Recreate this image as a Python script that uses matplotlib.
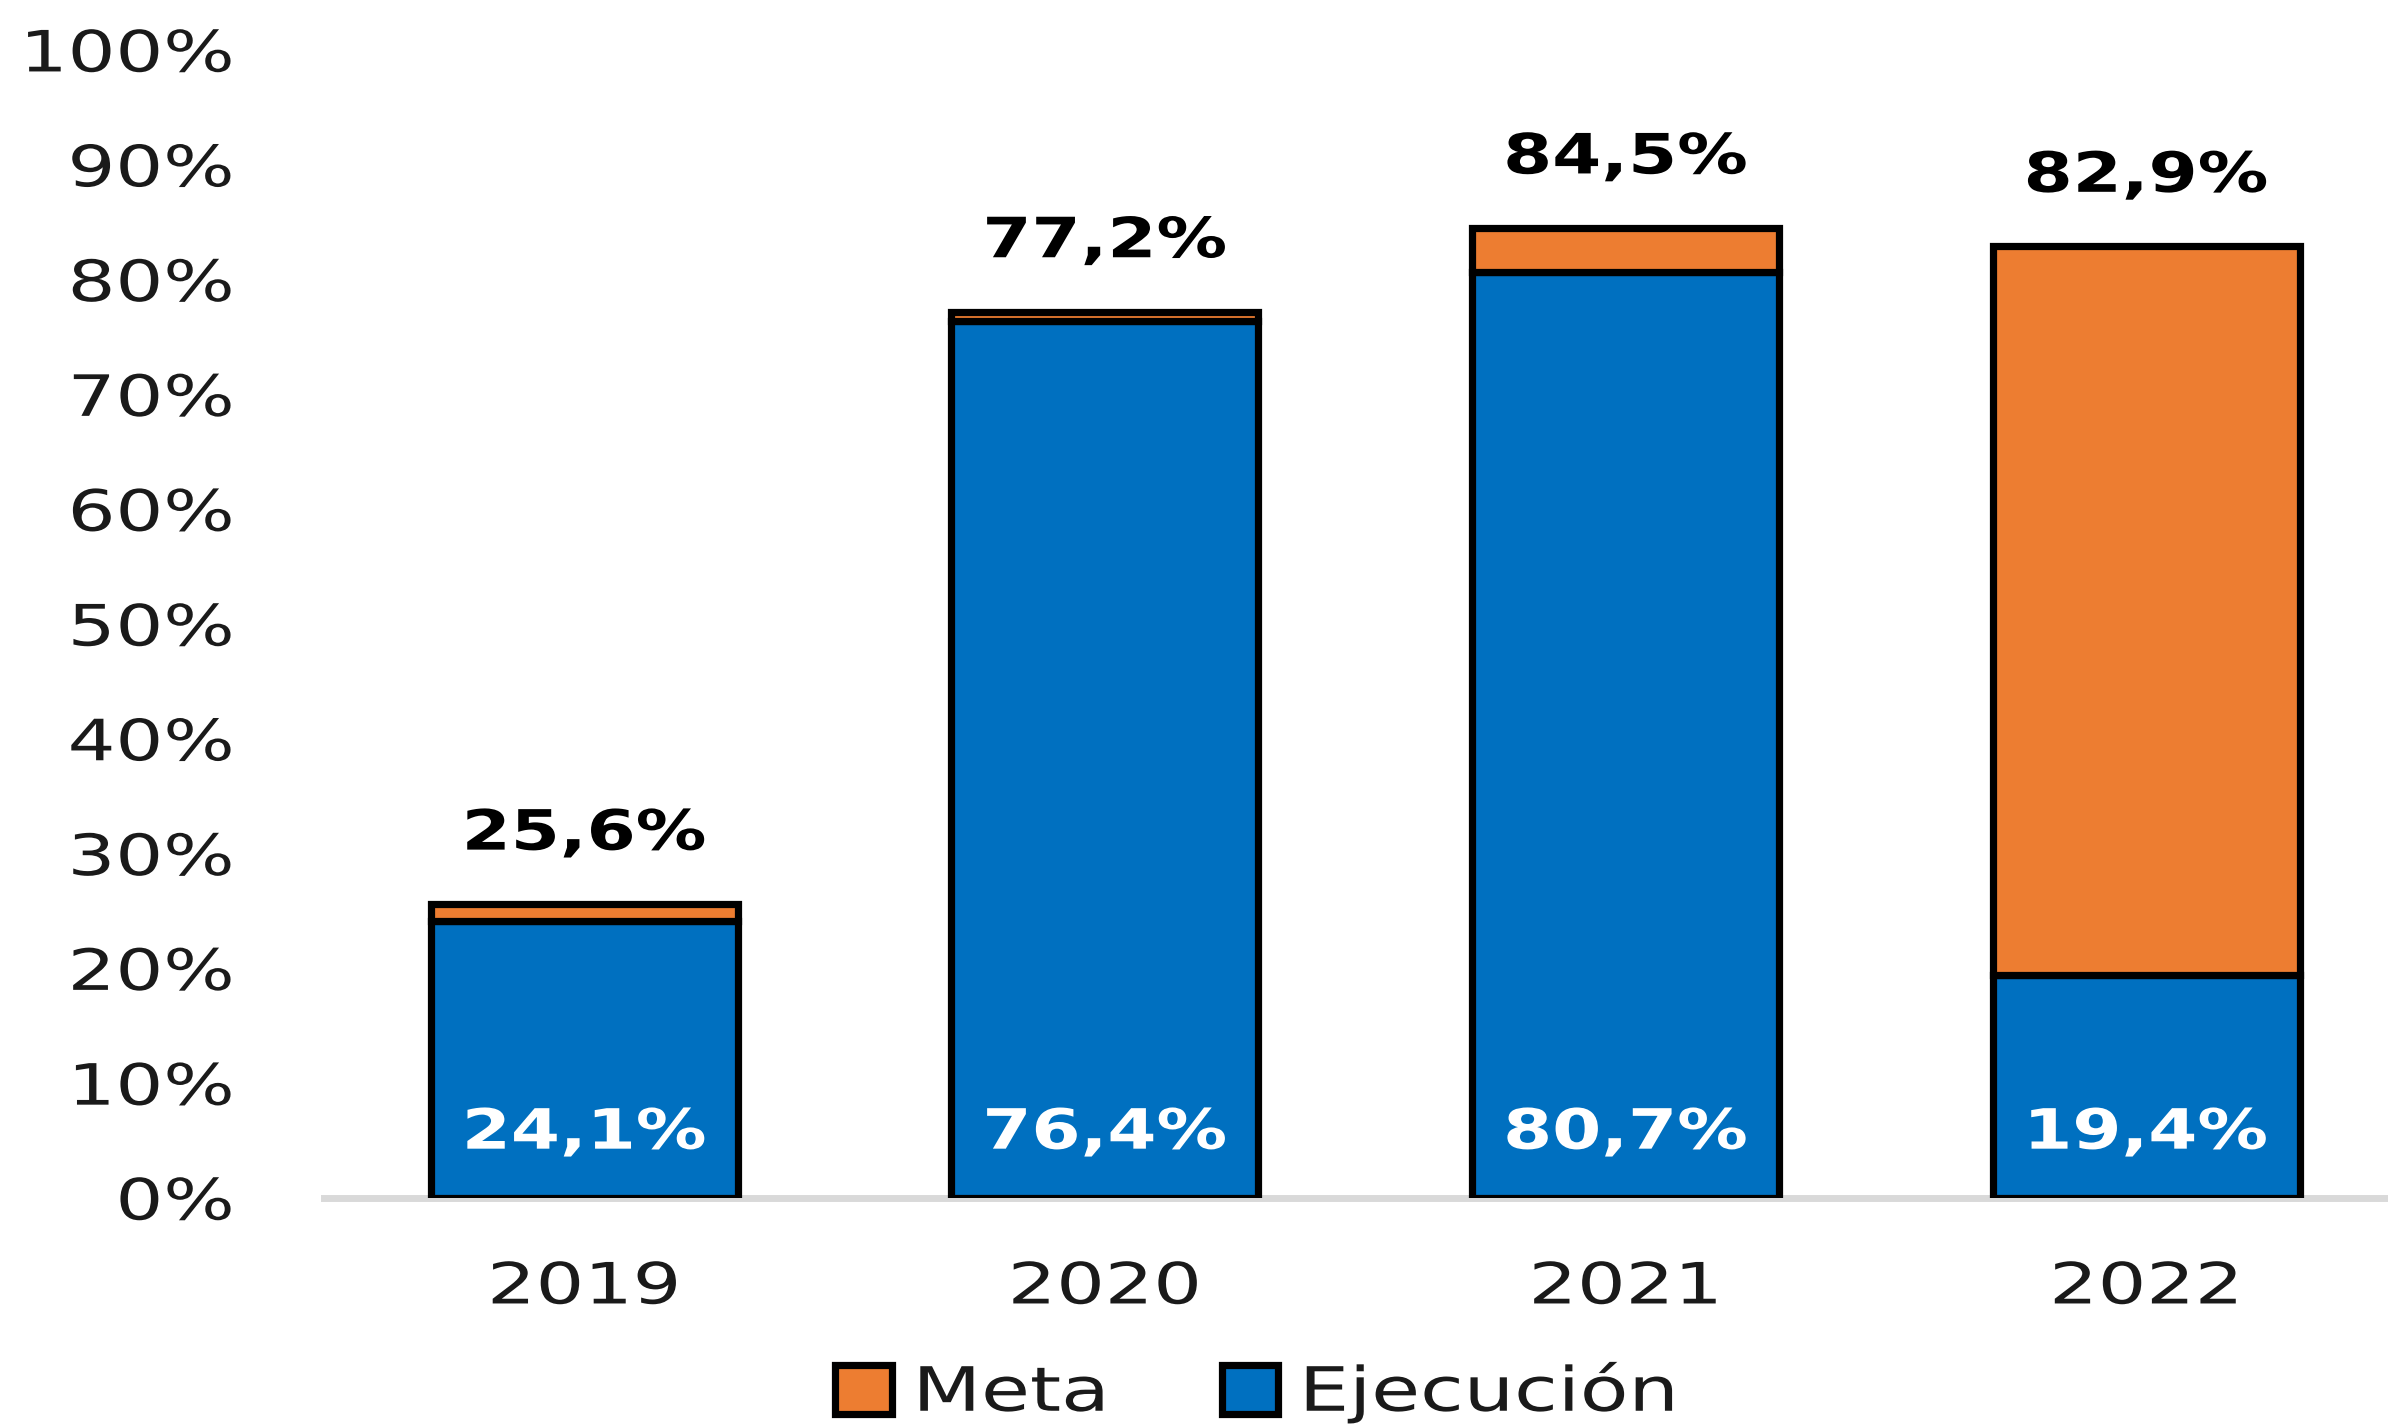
import matplotlib
matplotlib.use("Agg")
import matplotlib.pyplot as plt
import matplotlib.ticker as mticker
from matplotlib.patheffects import AbstractPathEffect
from matplotlib.transforms import Affine2D
import numpy as np

years = ["2019", "2020", "2021", "2022"]
ejecucion = [24.1, 76.4, 80.7, 19.4]
meta = [25.6, 77.2, 84.5, 82.9]

plt.rcParams['font.family'] = ['DejaVu Sans']


# the source picture is stretched sideways, so widen the glyphs a bit
class Stretch(AbstractPathEffect):
    def __init__(self, sx, anchor='center'):
        super().__init__()
        self.sx = sx
        self.anchor = anchor

    def draw_path(self, renderer, gc, tpath, affine, rgbFace=None):
        bb = tpath.get_extents(affine)
        if self.anchor == 'right':
            cx = bb.x1
        elif self.anchor == 'left':
            cx = bb.x0
        else:
            cx = (bb.x0 + bb.x1) / 2
        t = affine + Affine2D().translate(-cx, 0).scale(self.sx, 1).translate(cx, 0)
        renderer.draw_path(gc, tpath, t, rgbFace)


fig = plt.figure(figsize=(23.88, 14.27), dpi=100)
ax = fig.add_axes([0.1357, 0.1605, 0.872, 0.8045])

x = np.arange(len(years))
resto = [m - e for m, e in zip(meta, ejecucion)]
w = 0.59
b_eje = ax.bar(x, ejecucion, w, color='#0070C0', edgecolor='black', linewidth=5.2, label='Ejecución', zorder=3)
b_meta = ax.bar(x, resto, w, bottom=ejecucion, color='#ED7D31', edgecolor='black', linewidth=5.2, label='Meta', zorder=3)


def fmt(v):
    return ("%.1f%%" % v).replace('.', ',')


for i in range(len(years)):
    ax.annotate(fmt(meta[i]), (x[i], meta[i]), xytext=(0, 50), textcoords='offset points',
                ha='center', va='center', fontsize=40, fontweight='bold', color='black',
                path_effects=[Stretch(1.27)])
    ax.text(x[i], 5.6, fmt(ejecucion[i]), ha='center', va='center', fontsize=40,
            fontweight='bold', color='white', zorder=4, path_effects=[Stretch(1.27)])

ax.set_xlim(-0.5, 3.5)
ax.set_ylim(0, 100)
ax.set_yticks(np.arange(0, 101, 10))
ax.yaxis.set_major_formatter(mticker.FuncFormatter(lambda v, p: "%d%%" % v))
ax.set_xticks(x)
ax.set_xticklabels(years)
ax.tick_params(axis='y', length=0, pad=65, labelsize=41, labelcolor='#1a1a1a')
ax.tick_params(axis='x', length=0, pad=45, labelsize=41, labelcolor='#1a1a1a')

for s in ['top', 'right', 'left']:
    ax.spines[s].set_visible(False)
ax.spines['bottom'].set_color('#D9D9D9')
ax.spines['bottom'].set_linewidth(5)
ax.spines['bottom'].set_zorder(2)

for t in ax.yaxis.get_major_ticks():
    t.label1.set_path_effects([Stretch(1.32, 'right')])
for t in ax.xaxis.get_major_ticks():
    t.label1.set_path_effects([Stretch(1.34)])

leg = fig.legend(handles=[b_meta, b_eje], labels=['Meta', 'Ejecución'], loc='center',
                 bbox_to_anchor=(0.5085, 1 - 1393 / 1427), ncol=2, frameon=False,
                 fontsize=44, handlelength=0.92, handleheight=0.85, handletextpad=0.37,
                 columnspacing=2.55)
for txt in leg.get_texts():
    txt.set_path_effects([Stretch(1.3, 'left')])
    txt.set_color('#1a1a1a')

fig.savefig('out.png', dpi=100)
